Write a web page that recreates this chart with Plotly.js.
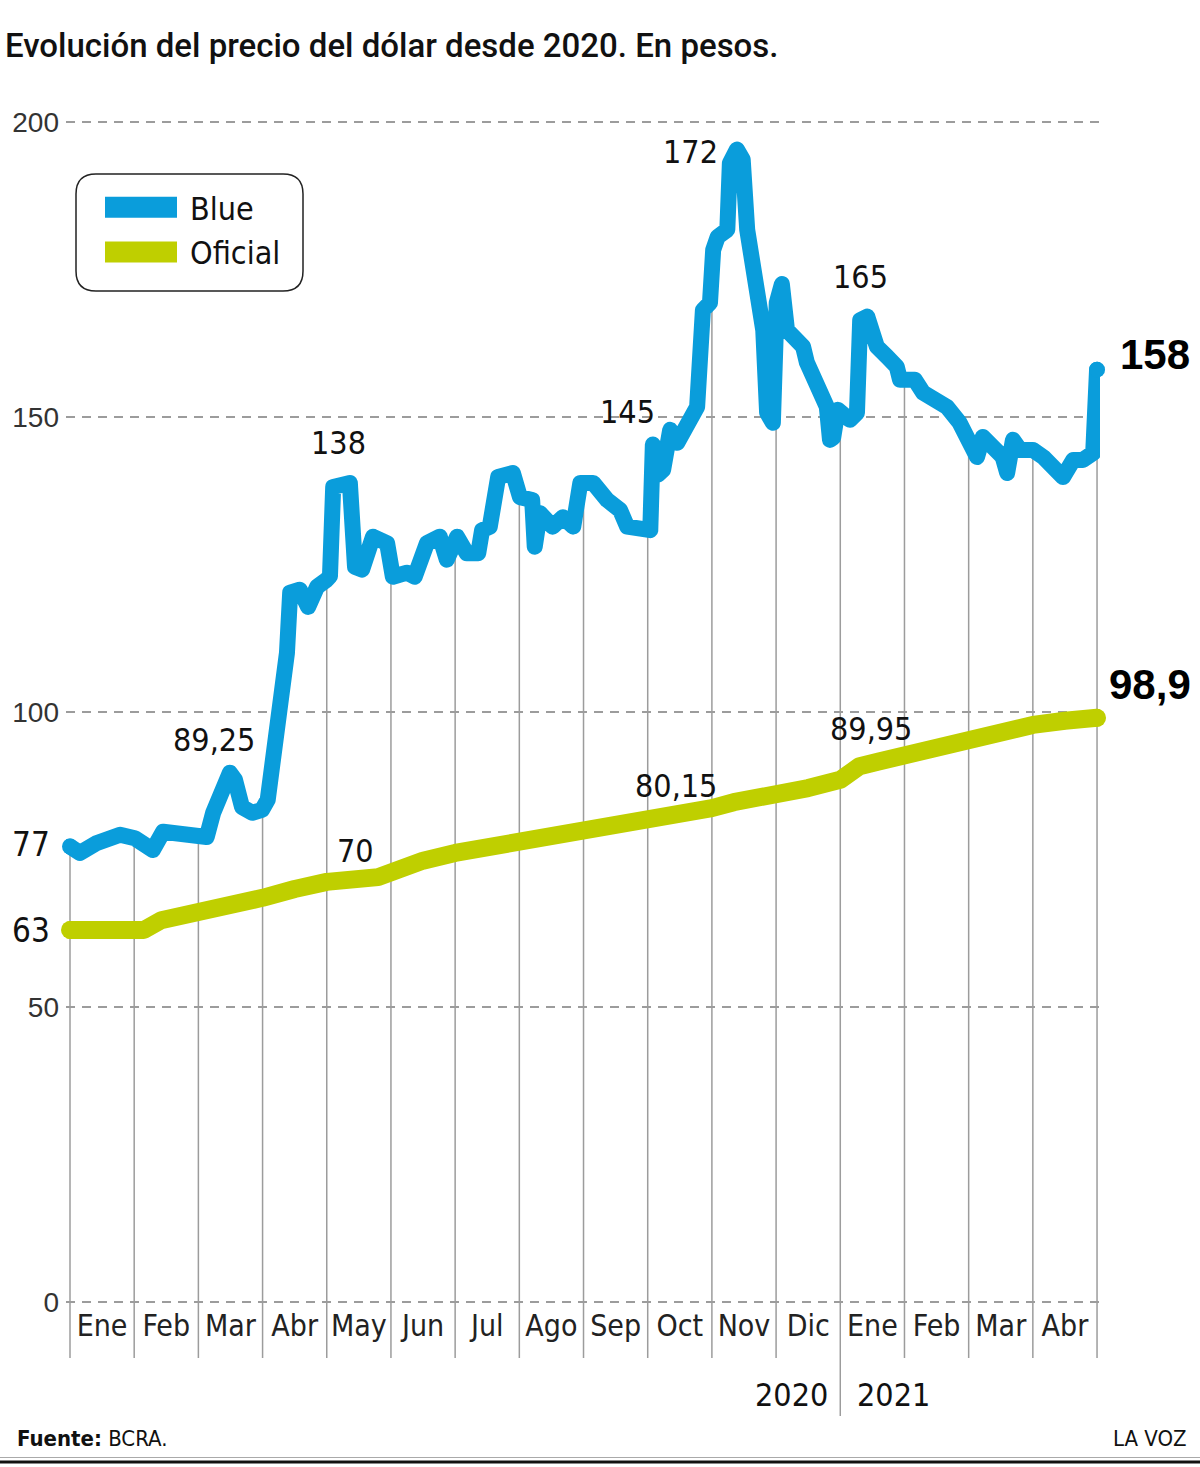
<!DOCTYPE html>
<html><head><meta charset="utf-8">
<script src="https://cdn.plot.ly/plotly-3.0.1.min.js"></script>
<style>
html,body{margin:0;padding:0;background:#fff;}
#chart{width:1200px;height:1467px;}
.scatterlayer .js-line{stroke-linejoin:round;stroke-linecap:round;}
.legendlines path{stroke-width:21px !important;stroke-linecap:butt !important;stroke-dasharray:72px 300px !important;}
</style></head><body><div id="chart"></div><script>
// ---------- DATA ----------
const months = ['Ene','Feb','Mar','Abr','May','Jun','Jul','Ago','Sep','Oct','Nov','Dic','Ene','Feb','Mar','Abr'];
const years = ['2020','2021'];
// time in months since 1 Jan 2020
const blueT = [0,0.156,0.42,0.78,1.01,1.29,1.45,1.67,1.99,2.13,2.23,2.38,2.49,2.57,2.68,2.84,2.99,3.08,3.16,3.22,3.27,3.38,3.43,3.58,3.71,3.85,4.00,4.05,4.10,4.36,4.44,4.55,4.72,4.94,5.03,5.25,5.37,5.56,5.76,5.87,6.03,6.18,6.36,6.42,6.54,6.67,6.90,7.01,7.20,7.24,7.32,7.52,7.68,7.84,7.95,8.15,8.37,8.57,8.68,8.88,9.04,9.08,9.16,9.24,9.35,9.46,9.66,9.77,9.86,9.97,10.02,10.09,10.24,10.28,10.39,10.48,10.55,10.64,10.75,10.80,10.86,10.95,11.01,11.09,11.17,11.26,11.42,11.48,11.64,11.79,11.84,11.89,11.96,12.15,12.26,12.31,12.42,12.46,12.57,12.73,12.88,12.93,13.16,13.29,13.51,13.66,13.86,14.02,14.13,14.22,14.38,14.53,14.60,14.69,14.80,15.00,15.16,15.38,15.47,15.63,15.78,15.94,15.98,16.0];
const blueV = [77.2,76.1,77.8,79.2,78.6,76.6,79.7,79.5,78.8,78.8,82.9,86.3,89.7,88.5,83.9,82.9,83.4,85.1,91.9,100.3,105.4,110,120.2,120.7,117.8,121.2,122.4,123,138.1,138.8,124.6,124.1,129.7,128.6,122.9,123.6,122.9,128.6,129.7,125.8,129.7,126.9,126.9,130.8,131.4,139.8,140.5,136.4,135.9,128,133.7,131.4,133,131.4,138.8,138.8,135.9,134.2,131.4,130.8,130.8,145.3,140.2,141,147.8,145.6,150,151.7,168.1,169.3,178.3,180.5,181.7,193,195.3,193.6,181.7,176.1,168.1,164.7,150.7,149,169.3,172.5,164.7,163.6,161.9,159.2,155.1,151.7,146.1,146.5,151.2,149.5,150.7,166.4,167,165.5,161.9,160.2,158.5,156.3,156.3,154.1,152.4,151.7,149,146.1,143.2,146.6,144.4,143.2,140.5,146.1,144.4,144.4,143.2,140.5,139.8,142.7,142.7,143.9,149,158];
const oficialT = [0,1.15,1.42,2.0,2.37,3.0,3.5,4.0,4.8,5.0,5.5,6.0,6.5,7.0,7.5,8.0,8.5,9.0,9.57,9.72,10.0,10.34,11.0,11.5,12.0,12.15,12.3,12.6,13.0,13.5,14.0,14.5,15.0,15.5,16.0];
const oficialV = [63.05,63.05,64.7,65.9,66.8,68.5,70.0,71.2,72.0,72.9,74.8,76.1,77.0,78.0,78.9,79.7,80.4,81.2,82.2,83.2,83.7,84.7,85.9,87.1,88.5,89.6,90.8,91.6,92.7,94.1,95.6,96.8,97.8,98.5,99.0];
// value labels
const labelText = ['172','165','145','138','89,25','70','80,15','89,95'];
const labelT    = [9.66,12.31,8.69,4.19,2.24,4.44,9.44,12.48];
const labelV    = [194.9,173.7,150.8,145.6,95.3,76.4,87.5,97.1];
const startText = ['77','63'];
const startV = [77.6,63];
const endText = ['158','98,9'];
const endV = [160.5,104.6];
const yTicks = [0,50,100,150,200];

// ---------- LAYOUT HELPERS ----------
const W=1200,H=1467,ML=66,MR=100,MT=110,MB=162;
const PW=W-ML-MR, PH=H-MT-MB;
const px2x = p => (p-ML)/PW;
const px2y = p => (H-MB-p)/PH;
const NARROW = 'Liberation Sans Narrow, Arial Narrow, DejaVu Sans Condensed, sans-serif';
const BLUE = '#0a9ddb', GREEN = '#bfcf00', GRID = '#9c9c9c';

function interp(xs, ys, x){
  for(let i=0;i<xs.length-1;i++){
    if(x>=xs[i] && x<=xs[i+1]){
      const f=(x-xs[i])/(xs[i+1]-xs[i]); return ys[i]+f*(ys[i+1]-ys[i]);
    }
  }
  return x<xs[0]?ys[0]:ys[ys.length-1];
}

const traces = [
  {x: blueT, y: blueV, type:'scatter', mode:'lines', name:'Blue', line:{color:BLUE, width:16}, hoverinfo:'skip'},
  {x: oficialT, y: oficialV, type:'scatter', mode:'lines', name:'Oficial', line:{color:GREEN, width:18}, hoverinfo:'skip'},
  {x:[blueT[0], blueT[blueT.length-1]], y:[blueV[0], blueV[blueV.length-1]], type:'scatter', mode:'markers', showlegend:false, cliponaxis:false, marker:{color:BLUE, size:16}, hoverinfo:'skip'},
  {x:[oficialT[0], oficialT[oficialT.length-1]], y:[oficialV[0], oficialV[oficialV.length-1]], type:'scatter', mode:'markers', showlegend:false, cliponaxis:false, marker:{color:GREEN, size:18}, hoverinfo:'skip'}
];

const shapes = [];
for(let i=0;i<=months.length;i++){
  const top = interp(blueT, blueV, i);
  shapes.push({type:'line', xref:'x', yref:'y', x0:i, x1:i, y0:-0.5, y1:top, layer:'below', line:{color:GRID, width:1.5}});
  shapes.push({type:'line', xref:'x', yref:'paper', x0:i, x1:i, y0:0, y1:px2y(i===12?1416:1358), layer:'below', line:{color:GRID, width:1.5}});
}
// legend rounded frame
(function(){
  const x0=px2x(76), x1=px2x(303), yt=px2y(174), yb=px2y(291), rx=20/PW, ry=20/PH;
  shapes.push({type:'path', xref:'paper', yref:'paper', line:{color:'#222', width:1.5},
    path:`M${x0+rx},${yt} L${x1-rx},${yt} Q${x1},${yt} ${x1},${yt-ry} L${x1},${yb+ry} Q${x1},${yb} ${x1-rx},${yb} L${x0+rx},${yb} Q${x0},${yb} ${x0},${yb+ry} L${x0},${yt-ry} Q${x0},${yt} ${x0+rx},${yt} Z`});
})();
// bottom rule
shapes.push({type:'line', xref:'paper', yref:'paper', x0:px2x(0), x1:px2x(W), y0:px2y(1457.5), y1:px2y(1457.5), line:{color:'#aaa', width:1}});
shapes.push({type:'line', xref:'paper', yref:'paper', x0:px2x(0), x1:px2x(W), y0:px2y(1462), y1:px2y(1462), line:{color:'#111', width:3}});

const annotations = [];
labelText.forEach((t,i)=>annotations.push({text:t, x:labelT[i], y:labelV[i], xref:'x', yref:'y', showarrow:false, xanchor:'center', yanchor:'middle', font:{family:NARROW, size:32, color:'#111'}}));
startText.forEach((t,i)=>annotations.push({text:t, x:px2x(31), y:startV[i], xref:'paper', yref:'y', showarrow:false, xanchor:'center', yanchor:'middle', font:{family:NARROW, size:33, color:'#111'}}));
const endPx = [1155,1150];
endText.forEach((t,i)=>annotations.push({text:'<b>'+t+'</b>', x:px2x(endPx[i]), y:endV[i], xref:'paper', yref:'y', showarrow:false, xanchor:'center', yanchor:'middle', font:{family:'Liberation Sans, Arial, sans-serif', size:42, color:'#000', weight:900}}));
annotations.push({text:years[0], x:px2x(830), y:px2y(1395), xref:'paper', yref:'paper', showarrow:false, xanchor:'right', yanchor:'middle', font:{family:NARROW, size:32, color:'#111'}});
annotations.push({text:years[1], x:px2x(855), y:px2y(1395), xref:'paper', yref:'paper', showarrow:false, xanchor:'left', yanchor:'middle', font:{family:NARROW, size:32, color:'#111'}});
annotations.push({text:'<b>Fuente:</b> BCRA.', x:px2x(15), y:px2y(1438), xref:'paper', yref:'paper', showarrow:false, xanchor:'left', yanchor:'middle', font:{family:NARROW, size:22, color:'#111'}});
annotations.push({text:'LA VOZ', x:px2x(1189), y:px2y(1438), xref:'paper', yref:'paper', showarrow:false, xanchor:'right', yanchor:'middle', font:{family:NARROW, size:22, color:'#111'}});

const layout = {
  width:W, height:H, margin:{l:ML, r:MR, t:MT, b:MB, pad:0},
  paper_bgcolor:'#fff', plot_bgcolor:'#fff',
  title:{text:'Evolución del precio del dólar desde 2020. En pesos.', x:5/W, xref:'container', xanchor:'left', y:1-45/H, yref:'container', yanchor:'middle', font:{family:'Roboto, sans-serif', size:33, weight:500, color:'#111'}},
  xaxis:{range:[-4/64.19, (PW-4)/64.19], tickvals:months.map((m,i)=>i+0.5), ticktext:months, showgrid:false, zeroline:false, showline:false, ticks:'', tickfont:{family:NARROW, size:30, color:'#222'}, fixedrange:true},
  yaxis:{range:[-0.5, 202], tickvals:yTicks, ticktext:yTicks.map(String), showgrid:true, gridcolor:GRID, gridwidth:1.5, griddash:'9px,7px', zeroline:false, showline:false, ticks:'', ticklabelstandoff:6, tickfont:{family:'Liberation Sans, Arial, sans-serif', size:28, color:'#333'}, fixedrange:true},
  showlegend:true,
  legend:{x:px2x(100), y:px2y(180), xanchor:'left', yanchor:'top', bgcolor:'rgba(0,0,0,0)', borderwidth:0, itemwidth:80, tracegroupgap:0, font:{family:NARROW, size:32, color:'#111'}},
  shapes:shapes, annotations:annotations
};
Plotly.newPlot('chart', traces, layout, {staticPlot:true, displayModeBar:false});
</script></body></html>
